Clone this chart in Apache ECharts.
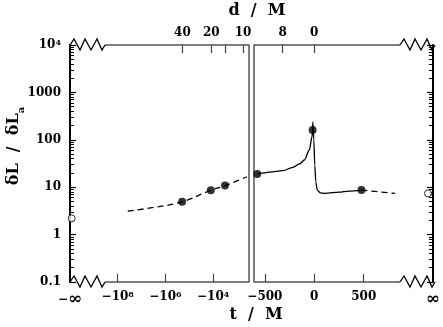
<!DOCTYPE html>
<html>
<head>
<meta charset="utf-8">
<script src="https://cdn.jsdelivr.net/npm/echarts@6/dist/echarts.min.js"></script>
<style>
  html, body { margin: 0; padding: 0; background: #fff; }
  #chart { width: 443px; height: 327px; }
</style>
</head>
<body>
<div id="chart"></div>
<script>
// left panel: t < 0 on a log |t| scale, right panel: linear t
const fitT = [-3.8e7, -2.6e6, -2e5, -1.26e4, -3.2e3, -383];
const fitV = [3.15, 3.8, 4.94, 8.6, 10.8, 16.6];
const earlyDotT = [-2e5, -1.26e4, -3.2e3];
const earlyDotV = [4.94, 8.6, 10.8];

const mergerT = [-577, -500, -450, -317, -217, -150, -100, -50, -23, -17, -14, -5, 5, 15, 30, 60, 110, 250, 350, 477];
const mergerV = [19, 20, 20.9, 22.3, 26.3, 31, 37.5, 61, 116, 161, 240, 100, 29, 13, 8.7, 7.6, 7.4, 7.9, 8.3, 8.7];
const lateDotT = [-577, -17, 477];
const lateDotV = [19, 161, 8.7];
const tailT = [477, 650, 817];
const tailV = [8.7, 8.0, 7.4];

// values at t = -inf / +inf (open circles)
const infLeftV = 2.2;
const infRightV = 7.4;

// ticks and labels
const yTicks = [0.1, 1, 10, 100, 1000, 10000];
const yLabels = ['0.1', '1', '10', '100', '1000', '10{s|4}'];
const leftBottomTicks = [-1e8, -1e6, -1e4];
const leftBottomLabels = ['−10{s|8}', '−10{s|6}', '−10{s|4}'];
const rightBottomTicks = [-500, 0, 500];
const rightBottomLabels = ['−500', '0', '500'];
const leftTopTicks = [-1.95e5, -1.2e4, -3.16e3, -562];
const leftTopLabels = ['40', '20', '', '10'];
const rightTopTicks = [-320, 0];
const rightTopLabels = ['8', '0'];

const FONT = 'DejaVu Serif';
const logU = t => -Math.log10(-t);
const U_MIN = -10, U_MAX = -2.5;
const T_MIN = -610, T_MAX = 1200;

const GL = { left: 70, top: 45, width: 179, height: 237 };
const GR = { left: 254, top: 45, width: 181, height: 237 };

const minorTicks = [];
[0.1, 1, 10, 100, 1000].forEach(d => {
  for (let k = 2; k <= 9; k++) minorTicks.push(d * k);
});

const rich = {
  s: { fontSize: 8, fontWeight: 'bold', fontFamily: FONT, verticalAlign: 'top', lineHeight: 8 },
  i: { fontSize: 17, fontWeight: 'bold', fontFamily: FONT }
};
const labelBase = { fontFamily: FONT, fontWeight: 'bold', fontSize: 12, color: '#000', rich: rich };

function pick(vals, labels, v) {
  const i = vals.findIndex(x => Math.abs(x - v) < 1e-6 * Math.max(1, Math.abs(x)));
  return i < 0 ? '' : labels[i];
}

function yAxisMajor(grid, pos, showLabel) {
  return {
    type: 'log', logBase: 10, min: 0.1, max: 10000, gridIndex: grid, position: pos,
    axisLine: { show: true, onZero: false, lineStyle: { color: '#000', width: 2 } },
    axisTick: { show: true, inside: true, length: 6, customValues: yTicks, lineStyle: { color: '#000', width: 1.2 } },
    axisLabel: Object.assign({}, labelBase, {
      show: showLabel, margin: 9, customValues: yTicks,
      formatter: v => pick(yTicks, yLabels, v)
    }),
    splitLine: { show: false }
  };
}
function yAxisMinor(grid, pos) {
  return {
    type: 'log', logBase: 10, min: 0.1, max: 10000, gridIndex: grid, position: pos,
    axisLine: { show: false, onZero: false },
    axisTick: { show: true, inside: true, length: 4, customValues: minorTicks, lineStyle: { color: '#000', width: 1 } },
    axisLabel: { show: false },
    splitLine: { show: false }
  };
}
function yAxisEdge(grid, pos) {
  return {
    type: 'log', logBase: 10, min: 0.1, max: 10000, gridIndex: grid, position: pos,
    axisLine: { show: true, onZero: false, lineStyle: { color: '#555', width: 1.5 } },
    axisTick: { show: false }, axisLabel: { show: false }, splitLine: { show: false }
  };
}
function xAxis(grid, pos, min, max, ticks, labelVals, fmt, margin) {
  return {
    type: 'value', gridIndex: grid, position: pos, min: min, max: max,
    axisLine: { show: false, onZero: false },
    axisTick: { show: true, inside: true, length: 8, customValues: ticks, lineStyle: { color: '#444', width: 1.2 } },
    axisLabel: Object.assign({}, labelBase, { margin: margin, customValues: labelVals, formatter: fmt }),
    splitLine: { show: false }
  };
}

const leftBottomU = leftBottomTicks.map(logU);
const leftTopU = leftTopTicks.map(logU);

function zig(x0, y0) {
  const offs = [[0, 0], [4, -6], [10, 5], [15, -6], [21, 5], [27, -6], [32, 5], [35, 0]];
  return offs.map(p => [x0 + p[0], y0 + p[1]]);
}
const yTop = GL.top, yBot = GL.top + GL.height;
const lineStyle = { stroke: '#555', lineWidth: 1.3 };
const zigStyle = { stroke: '#000', lineWidth: 1.3, fill: null };

const option = {
  animation: false,
  grid: [
    Object.assign({}, GL),
    Object.assign({}, GR)
  ],
  xAxis: [
    xAxis(0, 'bottom', U_MIN, U_MAX, leftBottomU, [U_MIN].concat(leftBottomU),
      v => v === U_MIN ? '−{i|∞}' : pick(leftBottomU, leftBottomLabels, v), 9),
    xAxis(0, 'top', U_MIN, U_MAX, leftTopU, leftTopU, v => pick(leftTopU, leftTopLabels, v), 6),
    xAxis(1, 'bottom', T_MIN, T_MAX, rightBottomTicks, rightBottomTicks.concat([T_MAX]),
      v => v === T_MAX ? '{i|∞}' : pick(rightBottomTicks, rightBottomLabels, v), 9),
    xAxis(1, 'top', T_MIN, T_MAX, rightTopTicks, rightTopTicks, v => pick(rightTopTicks, rightTopLabels, v), 6)
  ],
  yAxis: [
    yAxisMajor(0, 'left', true),
    yAxisMinor(0, 'left'),
    yAxisMajor(1, 'right', false),
    yAxisMinor(1, 'right'),
    yAxisEdge(0, 'right'),
    yAxisEdge(1, 'left')
  ],
  series: [
    {
      type: 'line', xAxisIndex: 0, yAxisIndex: 0, smooth: true, symbol: 'none',
      lineStyle: { color: '#000', width: 1.3, type: [6, 4] },
      data: fitT.map((t, i) => [logU(t), fitV[i]])
    },
    {
      type: 'scatter', xAxisIndex: 0, yAxisIndex: 0, symbolSize: 8,
      itemStyle: { color: '#000' },
      data: earlyDotT.map((t, i) => [logU(t), earlyDotV[i]])
    },
    {
      type: 'scatter', xAxisIndex: 0, yAxisIndex: 0, symbolSize: 7,
      itemStyle: { color: '#fff', borderColor: '#000', borderWidth: 1 },
      data: [[U_MIN + 0.07, infLeftV]]
    },
    {
      type: 'line', xAxisIndex: 2, yAxisIndex: 2, smooth: 0.3, smoothMonotone: 'x', symbol: 'none',
      lineStyle: { color: '#000', width: 1.3 },
      data: mergerT.map((t, i) => [t, mergerV[i]])
    },
    {
      type: 'line', xAxisIndex: 2, yAxisIndex: 2, smooth: true, symbol: 'none',
      lineStyle: { color: '#000', width: 1.3, type: [6, 4] },
      data: tailT.map((t, i) => [t, tailV[i]])
    },
    {
      type: 'scatter', xAxisIndex: 2, yAxisIndex: 2, symbolSize: 8,
      itemStyle: { color: '#000' },
      data: lateDotT.map((t, i) => [t, lateDotV[i]])
    },
    {
      type: 'scatter', xAxisIndex: 2, yAxisIndex: 2, symbolSize: 7,
      itemStyle: { color: '#fff', borderColor: '#000', borderWidth: 1 },
      data: [[1150, infRightV]]
    }
  ],
  graphic: [
    // axis lines with breaks
    { type: 'line', shape: { x1: GL.left + 35, y1: yTop, x2: GL.left + GL.width, y2: yTop }, style: lineStyle },
    { type: 'line', shape: { x1: GL.left + 35, y1: yBot, x2: GL.left + GL.width, y2: yBot }, style: lineStyle },
    { type: 'line', shape: { x1: GR.left, y1: yTop, x2: GR.left + GR.width - 35, y2: yTop }, style: lineStyle },
    { type: 'line', shape: { x1: GR.left, y1: yBot, x2: GR.left + GR.width - 35, y2: yBot }, style: lineStyle },
    { type: 'polyline', shape: { points: zig(GL.left, yTop) }, style: zigStyle },
    { type: 'polyline', shape: { points: zig(GL.left, yBot) }, style: zigStyle },
    { type: 'polyline', shape: { points: zig(GR.left + GR.width - 35, yTop) }, style: zigStyle },
    { type: 'polyline', shape: { points: zig(GR.left + GR.width - 35, yBot) }, style: zigStyle },
    // titles
    {
      type: 'text', x: 257, y: 11,
      style: { text: 'd  /  M', font: 'bold 16px "DejaVu Serif"', fill: '#000', align: 'center', verticalAlign: 'middle' }
    },
    {
      type: 'text', x: 256, y: 315,
      style: { text: 't  /  M', font: 'bold 16px "DejaVu Serif"', fill: '#000', align: 'center', verticalAlign: 'middle' }
    },
    {
      type: 'text', x: 16, y: 146, rotation: Math.PI / 2,
      style: {
        text: '{m|δL  /  δL}{a|a}', align: 'center', verticalAlign: 'middle',
        rich: {
          m: { fontFamily: FONT, fontWeight: 'bold', fontSize: 16, fill: '#000', verticalAlign: 'top', lineHeight: 20 },
          a: { fontFamily: FONT, fontWeight: 'bold', fontSize: 10, fill: '#000', verticalAlign: 'bottom', lineHeight: 14 }
        }
      }
    }
  ]
};

const chart = echarts.init(document.getElementById('chart'));
chart.setOption(option);
window.onresize = function () {
  chart.resize();
};
</script>
</body>
</html>
